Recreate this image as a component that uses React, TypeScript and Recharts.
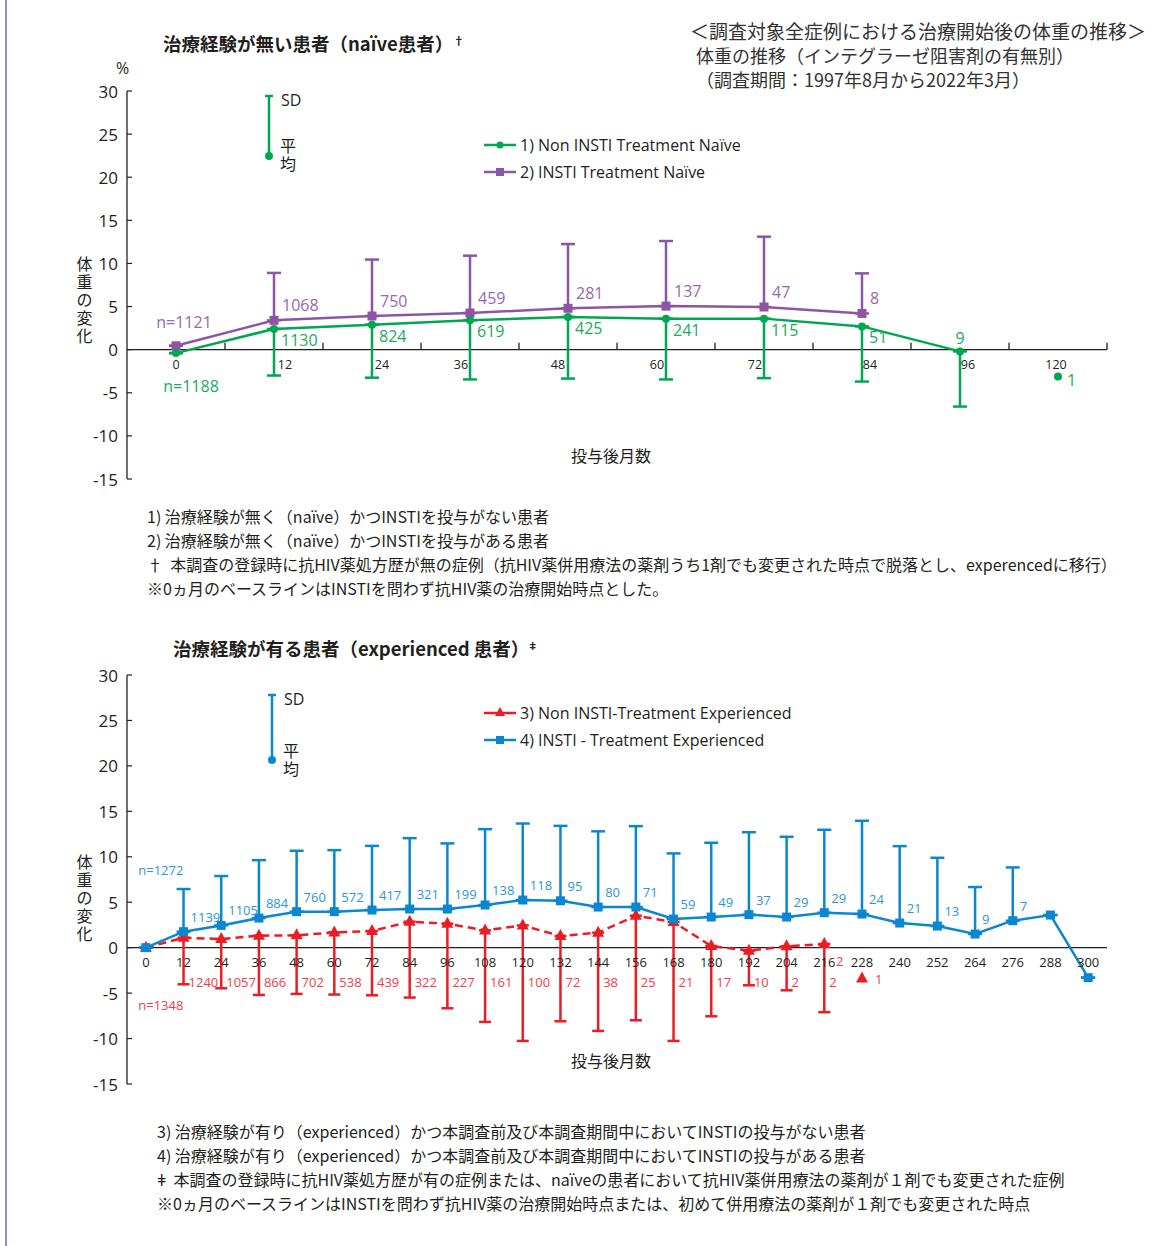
import React from 'react'
import { ComposedChart, Line, XAxis, YAxis, ErrorBar, LabelList, ReferenceLine } from 'recharts'

// ---- naïve patients (top chart) ----
const naiveMonths = ['0', '12', '24', '36', '48', '60', '72', '84', '96', '120']
const naiveNonInstiMean = [-0.4, 2.4, 2.9, 3.4, 3.8, 3.6, 3.6, 2.7, -0.2, null]
const naiveNonInstiLower = [null, -3.0, -3.25, -3.45, -3.35, -3.45, -3.3, -3.7, -6.6, null]
const naiveNonInstiN = ['n=1188', '1130', '824', '619', '425', '241', '115', '51', '9', null]
const naiveNonInstiLate = [null, null, null, null, null, null, null, null, null, -3.1]
const naiveNonInstiLateN = [null, null, null, null, null, null, null, null, null, '1']
const naiveInstiMean = [0.45, 3.4, 3.9, 4.25, 4.8, 5.05, 4.95, 4.2, null, null]
const naiveInstiUpper = [null, 8.9, 10.45, 10.9, 12.25, 12.6, 13.1, 8.85, null, null]
const naiveInstiN = ['n=1121', '1068', '750', '459', '281', '137', '47', '8', null, null]

// ---- experienced patients (bottom chart) ----
const expMonths = ['0', '12', '24', '36', '48', '60', '72', '84', '96', '108', '120', '132', '144', '156', '168', '180', '192', '204', '216', '228', '240', '252', '264', '276', '288', '300']
const expInstiMean = [0, 1.76, 2.45, 3.26, 3.96, 3.96, 4.14, 4.25, 4.25, 4.69, 5.24, 5.16, 4.47, 4.47, 3.15, 3.37, 3.63, 3.37, 3.85, 3.7, 2.71, 2.38, 1.5, 2.97, 3.59, -3.3]
const expInstiUpper = [null, 6.45, 7.88, 9.63, 10.66, 10.73, 11.2, 12.05, 11.47, 13.04, 13.66, 13.4, 12.8, 13.37, 10.37, 11.54, 12.7, 12.2, 12.97, 13.96, 11.17, 9.89, 6.67, 8.83, null, null]
const expInstiN = ['n=1272', '1139', '1105', '884', '760', '572', '417', '321', '199', '138', '118', '95', '80', '71', '59', '49', '37', '29', '29', '24', '21', '13', '9', '7', null, null]
const expNonInstiMean = [0, 1.1, 0.95, 1.32, 1.36, 1.68, 1.83, 2.86, 2.64, 1.9, 2.45, 1.28, 1.65, 3.52, 2.82, 0.18, -0.33, 0.15, 0.4, null, null, null, null, null, null, null]
const expNonInstiLower = [null, -4.03, -4.47, -5.2, -5.09, -5.16, -5.24, -5.49, -6.67, -8.17, -10.26, -8.1, -9.16, -7.99, -10.26, -7.55, -4.14, -4.69, -7.1, null, null, null, null, null, null, null]
const expNonInstiN = ['n=1348', '1240', '1057', '866', '702', '538', '439', '322', '227', '161', '100', '72', '38', '25', '21', '17', '10', '2', '2', null, null, null, null, null, null, null]
const expNonInstiLate = [null, null, null, null, null, null, null, null, null, null, null, null, null, null, null, null, null, null, null, -3.4, null, null, null, null, null, null]
const expNonInstiLateN = [null, null, null, null, null, null, null, null, null, null, null, null, null, null, null, null, null, null, null, '1', null, null, null, null, null, null]

const yTicks = [30, 25, 20, 15, 10, 5, 0, -5, -10, -15]

const naiveData = naiveMonths.map((m, i) => ({
  month: m,
  nonInsti: naiveNonInstiMean[i],
  nonInstiErr: naiveNonInstiMean[i] == null ? null : naiveNonInstiLower[i] == null ? [0, 0] : [naiveNonInstiMean[i] - naiveNonInstiLower[i], 0],
  nonInstiN: naiveNonInstiN[i],
  nonInstiLate: naiveNonInstiLate[i],
  nonInstiLateN: naiveNonInstiLateN[i],
  insti: naiveInstiMean[i],
  instiErr: naiveInstiMean[i] == null ? null : naiveInstiUpper[i] == null ? [0, 0] : [0, naiveInstiUpper[i] - naiveInstiMean[i]],
  instiN: naiveInstiN[i],
}))

const expData = expMonths.map((m, i) => ({
  month: m,
  nonInsti: expNonInstiMean[i],
  nonInstiErr: expNonInstiMean[i] == null ? null : expNonInstiLower[i] == null ? [0, 0] : [expNonInstiMean[i] - expNonInstiLower[i], 0],
  nonInstiN: expNonInstiN[i],
  nonInstiLate: expNonInstiLate[i],
  nonInstiLateN: expNonInstiLateN[i],
  insti: expInstiMean[i],
  instiErr: expInstiMean[i] == null ? null : expInstiUpper[i] == null ? [0, 0] : [0, expInstiUpper[i] - expInstiMean[i]],
  instiN: expInstiN[i],
}))

const GREEN = '#00a651'
const PURPLE = '#8e55a7'
const BLUE = '#0b87cf'
const RED = '#ec1c24'
const INK = '#231f20'
const FONT = '"Open Sans", "Noto Sans CJK JP", sans-serif'
const JP = '"Noto Sans CJK JP", sans-serif'

const TOP_ZERO = 91 + 388 * 30 / 45
const BOT_ZERO = 75 + 409 * 30 / 45
const NAIVE_BAND = 980 / naiveMonths.length
const naiveTickShift = [0, 11, 10, -9, -10, -9, -9, 8, 8, -2]

const ok = (v: any) => typeof v === 'number' && isFinite(v)

function YTick(props: any) {
  const { x, y, payload } = props
  return (
    <g>
      <line x1={x} x2={x + 5} y1={y} y2={y} stroke={INK} strokeWidth={1.2} />
      <text x={x - 9} y={y} textAnchor="end" dominantBaseline="central" fontSize={17} fill={INK} fontFamily={FONT}>{payload.value}</text>
    </g>
  )
}

function NaiveTick(props: any) {
  const { x, payload, index } = props
  return (
    <g>
      <line x1={x + NAIVE_BAND / 2} x2={x + NAIVE_BAND / 2} y1={TOP_ZERO - 7} y2={TOP_ZERO} stroke={INK} strokeWidth={1.3} />
      <text x={x + (naiveTickShift[index] || 0)} y={TOP_ZERO + 15} textAnchor="middle" dominantBaseline="central" fontSize={12.5} fill={INK} fontFamily={FONT}>{payload.value}</text>
    </g>
  )
}

function ExpTick(props: any) {
  const { x, payload } = props
  return <text x={x} y={BOT_ZERO + 14} textAnchor="middle" dominantBaseline="central" fontSize={13} fill={INK} fontFamily={FONT}>{payload.value}</text>
}

const circleDot = (color: string, r: number) => (p: any) =>
  ok(p.cy) ? <circle key={p.index} cx={p.cx} cy={p.cy} r={r} fill={color} /> : <g key={p.index} />
const squareDot = (color: string, s: number) => (p: any) =>
  ok(p.cy) ? <rect key={p.index} x={p.cx - s / 2} y={p.cy - s / 2} width={s} height={s} fill={color} /> : <g key={p.index} />
const triangleDot = (color: string) => (p: any) =>
  ok(p.cy) ? <path key={p.index} d={`M${p.cx},${p.cy - 7} L${p.cx + 6},${p.cy + 4} L${p.cx - 6},${p.cy + 4} Z`} fill={color} /> : <g key={p.index} />

const lbl = (x: number, y: number, text: any, color: string, size: number, anchor = 'start') => (
  <text x={x} y={y} textAnchor={anchor} dominantBaseline="central" fontSize={size} fill={color} fontFamily={FONT}>{text}</text>
)

const naiveInstiLabel = (p: any) => {
  const { x, y, value, index } = p
  if (value == null || !ok(y)) return null
  if (index === 0) return lbl(x + 8, y - 24, value, '#9a66b5', 16, 'middle')
  return lbl(x + 8, y - 15, value, '#9a66b5', 16)
}
const naiveNonInstiLabel = (p: any) => {
  const { x, y, value, index } = p
  if (value == null || !ok(y)) return null
  if (index === 0) return lbl(x + 15, y + 33, value, '#1aab5c', 16, 'middle')
  if (index === 8) return lbl(x, y - 13, value, '#1aab5c', 16, 'middle')
  return lbl(x + 7, y + 11, value, '#1aab5c', 16)
}
const naiveLateLabel = (p: any) => {
  const { x, y, value } = p
  if (value == null || !ok(y)) return null
  return lbl(x + 9, y + 4, value, '#1aab5c', 16)
}
const expInstiLabel = (p: any) => {
  const { x, y, value, index } = p
  if (value == null || !ok(y)) return null
  if (index === 0) return lbl(x + 15, BOT_ZERO - 78, value, '#2b96d6', 13, 'middle')
  return lbl(x + 7, y - 15, value, '#2b96d6', 13)
}
const expNonInstiLabel = (p: any) => {
  const { x, y, value, index } = p
  if (value == null || !ok(y)) return null
  if (index === 0) return lbl(x + 15, BOT_ZERO + 57, value, '#ef3d47', 13, 'middle')
  return lbl(x + 5, BOT_ZERO + 34, value, '#ef3d47', 13)
}
const expLateLabel = (p: any) => {
  const { x, y, value } = p
  if (value == null || !ok(y)) return null
  return lbl(x + 13, y, value, '#ef3d47', 13)
}

function Txt({ left, cy, size = 15, bold = false, color = INK, center = false, family = JP, children }: any) {
  const lh = Math.round(size * 1.4)
  return (
    <div style={{ position: 'absolute', left, top: cy - lh / 2, fontSize: size, lineHeight: `${lh}px`, fontWeight: bold ? 700 : 400, color, fontFamily: family, whiteSpace: 'nowrap', transform: center ? 'translateX(-50%)' : undefined }}>
      {children}
    </div>
  )
}

function VLabel({ top }: { top: number }) {
  return (
    <div style={{ position: 'absolute', left: 76, top, width: 17, fontSize: 16, lineHeight: '18px', color: INK, fontFamily: JP, textAlign: 'center' }}>
      {'体重の変化'.split('').map((c, i) => <div key={i}>{c}</div>)}
    </div>
  )
}

function SdKey({ x, top, bottom, color, labelTop }: any) {
  return (
    <>
      <svg style={{ position: 'absolute', left: x - 6, top: top - 2 }} width={12} height={bottom - top + 8}>
        <line x1={6} x2={6} y1={2} y2={bottom - top + 2} stroke={color} strokeWidth={2.5} />
        <line x1={2} x2={10} y1={2} y2={2} stroke={color} strokeWidth={2.5} />
        <circle cx={6} cy={bottom - top + 2} r={4} fill={color} />
      </svg>
      <Txt left={x + 12} cy={top + 4} size={16} family={FONT}>SD</Txt>
      <Txt left={x + 11} cy={labelTop} size={16}>平</Txt>
      <Txt left={x + 11} cy={labelTop + 18} size={16}>均</Txt>
    </>
  )
}

function KeyRow({ y, color, marker, text }: any) {
  return (
    <>
      <svg style={{ position: 'absolute', left: 483, top: y - 8 }} width={34} height={16}>
        <line x1={1} x2={33} y1={8} y2={8} stroke={color} strokeWidth={2.5} />
        {marker === 'circle' && <circle cx={17} cy={8} r={3.5} fill={color} />}
        {marker === 'square' && <rect x={13} y={4} width={8} height={8} fill={color} />}
        {marker === 'triangle' && <path d="M17,2 L22,11 L12,11 Z" fill={color} />}
      </svg>
      <Txt left={520} cy={y} size={16} family={FONT}>{text}</Txt>
    </>
  )
}

export default function App() {
  return (
    <div style={{ position: 'absolute', left: 0, top: 0, width: 1157, height: 1246, background: '#fff', overflow: 'hidden' }}>
      <div style={{ position: 'absolute', left: 5, top: 0, width: 1.5, height: 1246, background: '#8d8fc9' }} />

      {/* headings */}
      <Txt left={163} cy={40} size={18.5} bold>治療経験が無い患者（naïve患者）<span style={{ fontSize: 11, verticalAlign: 6 }}>†</span></Txt>
      <Txt left={690} cy={30} size={19} color="#333">＜調査対象全症例における治療開始後の体重の推移＞</Txt>
      <Txt left={696} cy={55} size={18} color="#333">体重の推移（インテグラーゼ阻害剤の有無別）</Txt>
      <Txt left={696} cy={79} size={18} color="#333">（調査期間：1997年8月から2022年3月）</Txt>
      <Txt left={116} cy={68} size={16} family={FONT}>%</Txt>
      <VLabel top={254} />
      <Txt left={611} cy={455} size={16} center>投与後月数</Txt>

      <SdKey x={269} top={96} bottom={156} color={GREEN} labelTop={145} />
      <KeyRow y={145} color={GREEN} marker="circle" text="1) Non INSTI Treatment Naïve" />
      <KeyRow y={172} color={PURPLE} marker="square" text="2) INSTI Treatment Naïve" />

      <div style={{ position: 'absolute', left: 0, top: 0 }}>
        <ComposedChart width={1157} height={500} data={naiveData} margin={{ top: 91, right: 50, bottom: 20, left: 67 }}>
          <ReferenceLine y={0} stroke={INK} strokeWidth={1.3} />
          <XAxis dataKey="month" scale="band" interval={0} axisLine={false} tickLine={false} height={1} tick={<NaiveTick />} />
          <YAxis domain={[-15, 30]} ticks={yTicks} width={60} tickLine={false} tickSize={0} tickMargin={0} axisLine={{ stroke: INK, strokeWidth: 1.3 }} tick={<YTick />} />
          <Line dataKey="insti" stroke={PURPLE} strokeWidth={2.5} isAnimationActive={false} dot={squareDot(PURPLE, 9)} activeDot={false}>
            <ErrorBar dataKey="instiErr" direction="y" width={7} stroke={PURPLE} strokeWidth={2.5} />
            <LabelList dataKey="instiN" content={naiveInstiLabel} />
          </Line>
          <Line dataKey="nonInsti" stroke={GREEN} strokeWidth={2.5} isAnimationActive={false} dot={circleDot(GREEN, 4)} activeDot={false}>
            <ErrorBar dataKey="nonInstiErr" direction="y" width={7} stroke={GREEN} strokeWidth={2.5} />
            <LabelList dataKey="nonInstiN" content={naiveNonInstiLabel} />
          </Line>
          <Line dataKey="nonInstiLate" stroke="none" isAnimationActive={false} dot={circleDot(GREEN, 4)} activeDot={false}>
            <LabelList dataKey="nonInstiLateN" content={naiveLateLabel} />
          </Line>
        </ComposedChart>
      </div>

      {/* notes (naïve) */}
      <Txt left={147} cy={516} size={16}>1) 治療経験が無く（naïve）かつINSTIを投与がない患者</Txt>
      <Txt left={147} cy={540} size={16}>2) 治療経験が無く（naïve）かつINSTIを投与がある患者</Txt>
      <Txt left={147} cy={564} size={16}>†&nbsp;&nbsp;本調査の登録時に抗HIV薬処方歴が無の症例（抗HIV薬併用療法の薬剤うち1剤でも変更された時点で脱落とし、experencedに移行）</Txt>
      <Txt left={147} cy={588} size={16}>※0ヵ月のベースラインはINSTIを問わず抗HIV薬の治療開始時点とした。</Txt>

      {/* experienced */}
      <Txt left={173} cy={645} size={18.5} bold>治療経験が有る患者（experienced 患者）<span style={{ fontSize: 11, verticalAlign: 6 }}>ǂ</span></Txt>
      <VLabel top={852} />
      <Txt left={611} cy={1060} size={16} center>投与後月数</Txt>
      <SdKey x={272} top={695} bottom={760} color={BLUE} labelTop={750} />
      <KeyRow y={713} color={RED} marker="triangle" text="3) Non INSTI-Treatment Experienced" />
      <KeyRow y={740} color={BLUE} marker="square" text="4) INSTI - Treatment Experienced" />

      <div style={{ position: 'absolute', left: 0, top: 600 }}>
        <ComposedChart width={1157} height={500} data={expData} margin={{ top: 75, right: 50, bottom: 15, left: 67 }}>
          <ReferenceLine y={0} stroke={INK} strokeWidth={1.3} />
          <XAxis dataKey="month" scale="band" interval={0} axisLine={false} tickLine={false} height={1} tick={<ExpTick />} />
          <YAxis domain={[-15, 30]} ticks={yTicks} width={60} tickLine={false} tickSize={0} tickMargin={0} axisLine={{ stroke: INK, strokeWidth: 1.3 }} tick={<YTick />} />
          <Line dataKey="nonInsti" stroke={RED} strokeWidth={2.5} strokeDasharray="8 5" isAnimationActive={false} dot={triangleDot(RED)} activeDot={false}>
            <ErrorBar dataKey="nonInstiErr" direction="y" width={6} stroke={RED} strokeWidth={2.5} />
            <LabelList dataKey="nonInstiN" content={expNonInstiLabel} />
          </Line>
          <Line dataKey="nonInstiLate" stroke="none" isAnimationActive={false} dot={triangleDot(RED)} activeDot={false}>
            <LabelList dataKey="nonInstiLateN" content={expLateLabel} />
          </Line>
          <Line dataKey="insti" stroke={BLUE} strokeWidth={2.5} isAnimationActive={false} dot={squareDot(BLUE, 9)} activeDot={false}>
            <ErrorBar dataKey="instiErr" direction="y" width={7} stroke={BLUE} strokeWidth={2.5} />
            <LabelList dataKey="instiN" content={expInstiLabel} />
          </Line>
        </ComposedChart>
      </div>
      <Txt left={836} cy={961} size={13} color="#ef3d47" family={FONT}>2</Txt>

      {/* notes (experienced) */}
      <Txt left={157} cy={1131} size={16}>3) 治療経験が有り（experienced）かつ本調査前及び本調査期間中においてINSTIの投与がない患者</Txt>
      <Txt left={157} cy={1155} size={16}>4) 治療経験が有り（experienced）かつ本調査前及び本調査期間中においてINSTIの投与がある患者</Txt>
      <Txt left={157} cy={1179} size={16}>ǂ&nbsp;&nbsp;本調査の登録時に抗HIV薬処方歴が有の症例または、naïveの患者において抗HIV薬併用療法の薬剤が１剤でも変更された症例</Txt>
      <Txt left={157} cy={1203} size={16}>※0ヵ月のベースラインはINSTIを問わず抗HIV薬の治療開始時点または、初めて併用療法の薬剤が１剤でも変更された時点</Txt>
    </div>
  )
}
